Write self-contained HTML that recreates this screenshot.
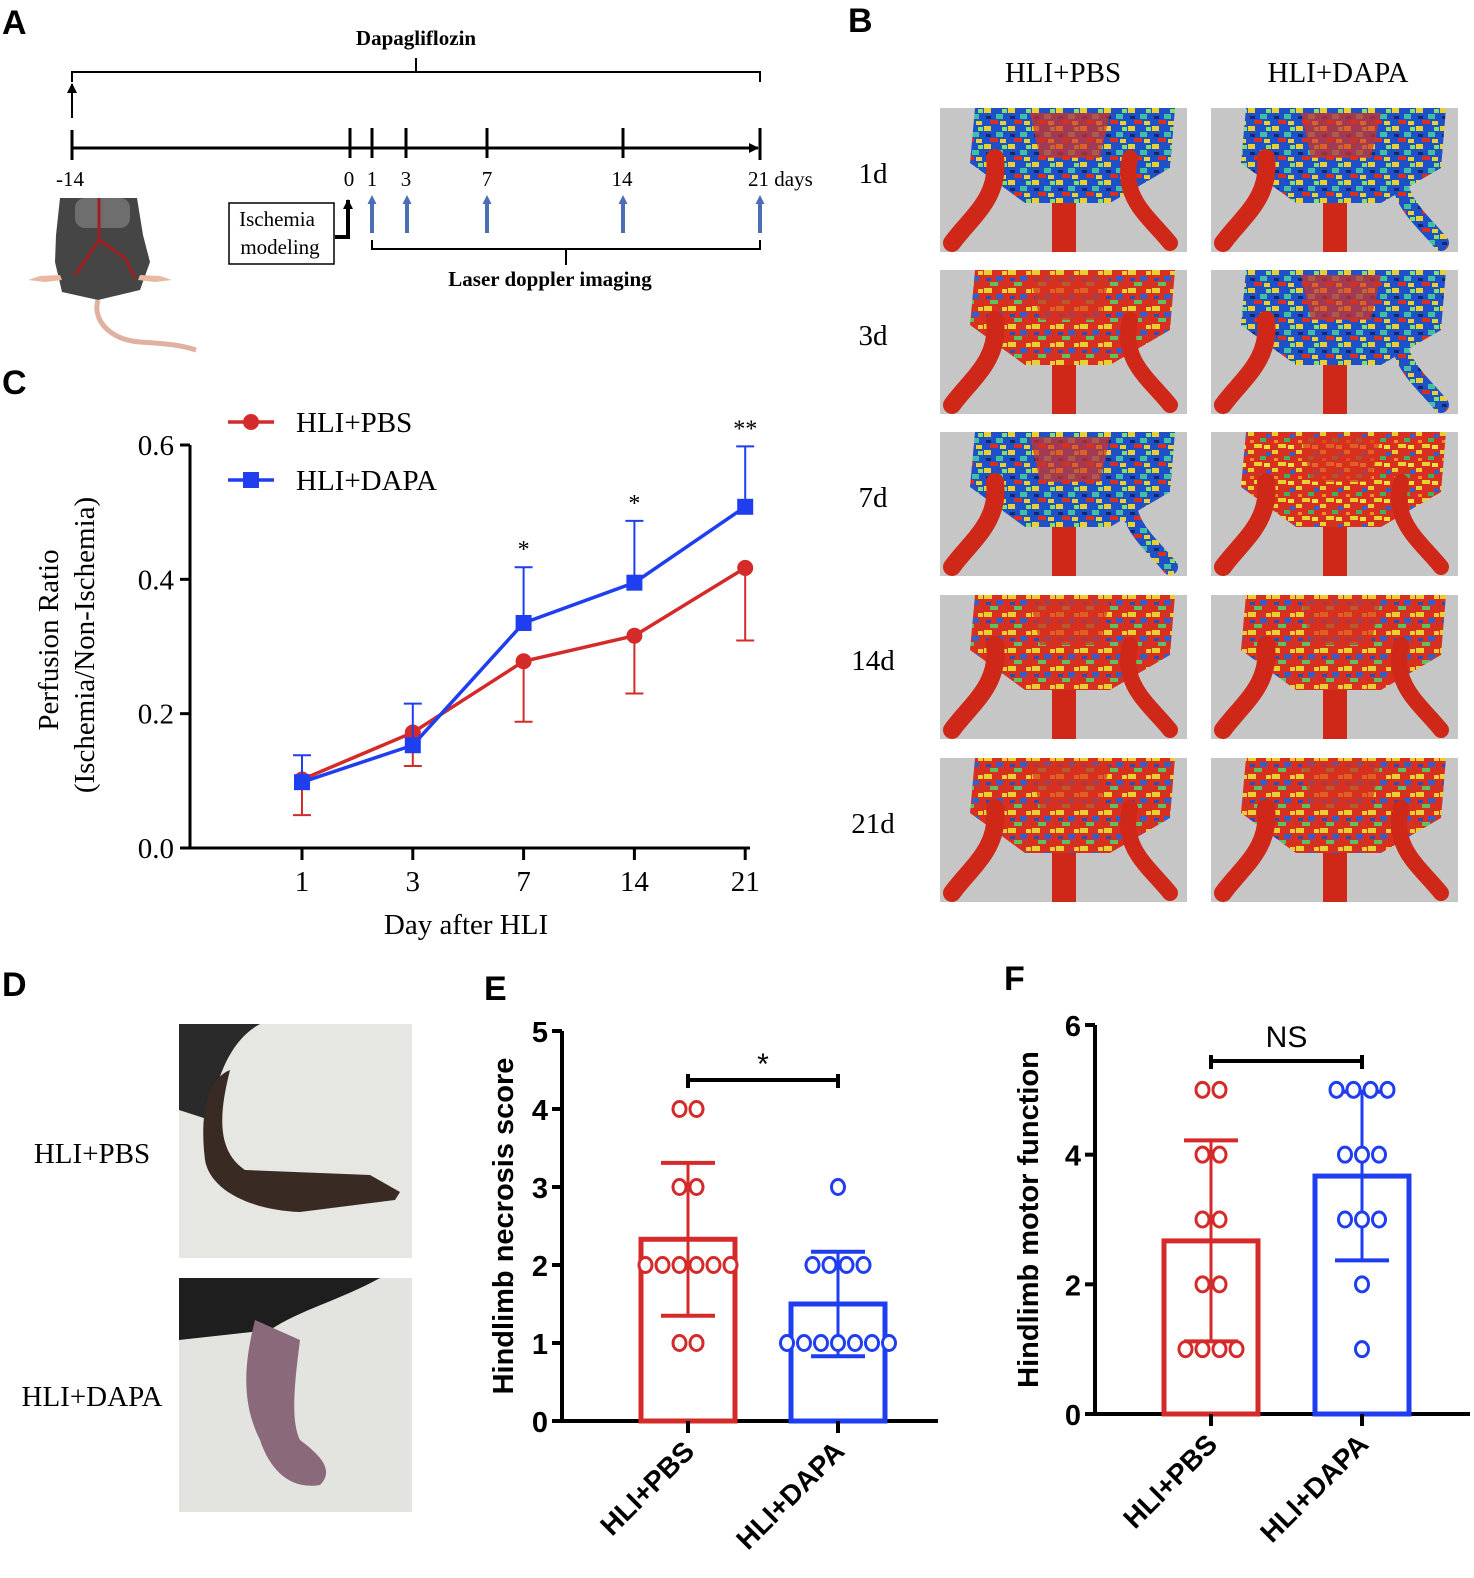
<!DOCTYPE html>
<html><head><meta charset="utf-8">
<style>
html,body{margin:0;padding:0;background:#fff;}
svg{display:block;}
.serif{font-family:"Liberation Serif",serif;}
.sans{font-family:"Liberation Sans",sans-serif;}
</style></head>
<body>
<svg id="fig" width="1474" height="1578" viewBox="0 0 1474 1578" xmlns="http://www.w3.org/2000/svg">
<defs>
<marker id="ah" markerUnits="userSpaceOnUse" markerWidth="10" markerHeight="10" refX="9" refY="5" orient="auto"><path d="M0,0 L10,5 L0,10 z" fill="#000"/></marker>
<marker id="ahb" markerUnits="userSpaceOnUse" markerWidth="9" markerHeight="9" refX="4" refY="4.5" orient="auto"><path d="M0,0 L9,4.5 L0,9 z" fill="#4a6fb5"/></marker>
<pattern id="hot" width="24" height="18" patternUnits="userSpaceOnUse">
<rect width="24" height="18" fill="#d83020"/>
<rect x="0" y="0" width="6" height="4" fill="#e8d030"/><rect x="12" y="6" width="6" height="4" fill="#40b060"/>
<rect x="6" y="12" width="8" height="4" fill="#e8d030"/><rect x="18" y="2" width="5" height="4" fill="#3060d0"/>
<rect x="2" y="8" width="4" height="3" fill="#f09020"/><rect x="16" y="13" width="6" height="4" fill="#f0e040"/>
</pattern>
<pattern id="cool" width="24" height="18" patternUnits="userSpaceOnUse">
<rect width="24" height="18" fill="#2050c8"/>
<rect x="0" y="0" width="7" height="5" fill="#e8d030"/><rect x="12" y="6" width="7" height="5" fill="#40c0a0"/>
<rect x="6" y="12" width="8" height="4" fill="#d83020"/><rect x="18" y="1" width="5" height="4" fill="#80e060"/>
<rect x="2" y="8" width="5" height="3" fill="#102870"/><rect x="16" y="13" width="6" height="4" fill="#e8d030"/>
</pattern>
<pattern id="warm" width="24" height="18" patternUnits="userSpaceOnUse">
<rect width="24" height="18" fill="#d83020"/>
<rect x="0" y="0" width="8" height="5" fill="#e8d030"/><rect x="12" y="6" width="7" height="5" fill="#3060d0"/>
<rect x="6" y="12" width="8" height="4" fill="#60c060"/><rect x="18" y="1" width="5" height="4" fill="#e8d030"/>
<rect x="2" y="8" width="5" height="3" fill="#2050c8"/>
</pattern>
</defs>

<g class="sans" font-weight="bold" font-size="34">
<text x="2" y="34">A</text>
<text x="848" y="32">B</text>
<text x="2" y="394">C</text>
<text x="2" y="996">D</text>
<text x="484" y="1000">E</text>
<text x="1004" y="990">F</text>
</g>

<g stroke="#000" fill="none">
<text class="serif" x="416" y="45" font-size="21" font-weight="bold" text-anchor="middle" fill="#000" stroke="none">Dapagliflozin</text>
<path d="M72,82 V72 H760 V82 M416,72 V58" stroke-width="2"/>
<line x1="72" y1="118" x2="72" y2="84" stroke-width="2" marker-end="url(#ah)"/>
<line x1="72" y1="148" x2="758" y2="148" stroke-width="3" marker-end="url(#ah)"/>
<g stroke-width="3"><line x1="72" y1="130" x2="72" y2="160"/><line x1="350" y1="128" x2="350" y2="158"/><line x1="372" y1="128" x2="372" y2="158"/><line x1="406" y1="128" x2="406" y2="158"/><line x1="487" y1="128" x2="487" y2="158"/><line x1="623" y1="128" x2="623" y2="158"/><line x1="760" y1="128" x2="760" y2="160"/></g>
<g class="serif" font-size="21" fill="#000" stroke="none">
<text x="70" y="186" text-anchor="middle">-14</text><text x="349" y="186" text-anchor="middle">0</text><text x="372" y="186" text-anchor="middle">1</text><text x="406" y="186" text-anchor="middle">3</text><text x="487" y="186" text-anchor="middle">7</text><text x="622" y="186" text-anchor="middle">14</text><text x="748" y="186">21 days</text>
</g>
<g stroke="#4a6fb5" stroke-width="4"><line x1="372" y1="233" x2="372" y2="200" marker-end="url(#ahb)"/><line x1="407" y1="233" x2="407" y2="200" marker-end="url(#ahb)"/><line x1="487" y1="233" x2="487" y2="200" marker-end="url(#ahb)"/><line x1="623" y1="233" x2="623" y2="200" marker-end="url(#ahb)"/><line x1="760" y1="233" x2="760" y2="200" marker-end="url(#ahb)"/></g>
<path d="M335,237 H348 V200" stroke-width="4" marker-end="url(#ah)"/>
<rect x="229" y="203" width="105" height="61" stroke-width="1.5"/>
<text class="serif" x="277" y="226" font-size="21" text-anchor="middle" fill="#000" stroke="none">Ischemia</text>
<text class="serif" x="280" y="254" font-size="21" text-anchor="middle" fill="#000" stroke="none">modeling</text>
<path d="M372,240 V249 H760 V240 M566,249 V265" stroke-width="2"/>
<text class="serif" x="550" y="286" font-size="21" font-weight="bold" text-anchor="middle" fill="#000" stroke="none">Laser doppler imaging</text>
</g>
<g>
<path d="M60,198 H137 L143,235 L150,262 L140,290 L98,300 L62,292 L55,262 L56,235 Z" fill="#454545"/>
<rect x="75" y="198" width="55" height="30" rx="10" fill="#6e6e6e"/>
<path d="M99,198 V240 L75,275 M99,240 L125,258 L135,278" stroke="#a02020" stroke-width="3" fill="none"/>
<path d="M60,275 L40,276 L28,280 L45,282 L62,280 Z M140,275 L160,276 L172,280 L155,282 L138,280 Z" fill="#e8b8a0"/>
<path d="M98,300 C92,320 110,340 140,342 C170,344 180,345 196,350" stroke="#e0b0a0" stroke-width="5" fill="none"/>
</g>

<g id="panelB">
<text class="serif" x="1063" y="82" font-size="29" text-anchor="middle">HLI+PBS</text>
<text class="serif" x="1338" y="82" font-size="29" text-anchor="middle">HLI+DAPA</text>
</g>

<g id="panelC"></g>

<g>
<rect x="179" y="1024" width="233" height="234" fill="#e6e6e2"/>
<path d="M179,1024 H260 C230,1040 215,1080 210,1120 L179,1110 Z" fill="#2a2a2a"/>
<path d="M230,1070 C220,1110 215,1150 245,1170 L370,1175 L400,1192 L395,1200 L300,1212 C250,1210 210,1190 205,1160 C200,1120 205,1080 230,1070 Z" fill="#3a2a24"/>
<rect x="179" y="1278" width="233" height="234" fill="#e3e3e0"/>
<path d="M179,1278 H380 C340,1300 300,1310 270,1330 L179,1340 Z" fill="#1e1e1e"/>
<path d="M255,1320 C245,1360 240,1400 260,1440 C270,1470 290,1490 320,1485 C335,1470 320,1455 300,1440 C290,1420 295,1380 300,1340 Z" fill="#8a6a7a"/>
<text class="serif" x="92" y="1163" font-size="29" text-anchor="middle">HLI+PBS</text>
<text class="serif" x="92" y="1406" font-size="29" text-anchor="middle">HLI+DAPA</text>
</g>

<g id="panelE"></g>
<g id="panelF"></g>
</svg>

<script>
var cDays = ['1','3','7','14','21'];
var pbsMean = [0.102, 0.172, 0.278, 0.316, 0.417];
var pbsErr = [0.053, 0.050, 0.090, 0.086, 0.108];
var dapaMean = [0.098, 0.153, 0.335, 0.395, 0.508];
var dapaErr = [0.040, 0.062, 0.083, 0.092, 0.090];
var cSig = ['', '', '*', '*', '**'];
var cTicks = [0, 0.2, 0.4, 0.6];

var eGroups = ['HLI+PBS', 'HLI+DAPA'];
var eMeans = [2.33, 1.50];
var eSD = [0.98, 0.67];
var ePbsDots = [4,4,3,3,2,2,2,2,2,2,1,1];
var eDapaDots = [3,2,2,2,2,1,1,1,1,1,1,1];
var eTicks = [0,1,2,3,4,5];

var fGroups = ['HLI+PBS', 'HLI+DAPA'];
var fMeans = [2.67, 3.67];
var fSD = [1.55, 1.30];
var fPbsDots = [5,5,4,4,3,3,2,2,1,1,1,1];
var fDapaDots = [5,5,5,5,4,4,4,3,3,3,2,1];
var fTicks = [0,2,4,6];

var NS = 'http://www.w3.org/2000/svg';
function mk(parent, tag, attrs, text) {
  var e = document.createElementNS(NS, tag);
  for (var k in attrs) e.setAttribute(k, attrs[k]);
  if (text !== undefined) e.textContent = text;
  parent.appendChild(e);
  return e;
}

(function(){
  var g = document.getElementById('panelB');
  var rowsLabel = ['1d','3d','7d','14d','21d'];
  var rowY = [108, 270, 432, 595, 758];
  var colX = [940, 1211];
  var bodyFill = [['url(#cool)','url(#cool)'],['url(#warm)','url(#cool)'],['url(#cool)','url(#hot)'],['url(#warm)','url(#warm)'],['url(#warm)','url(#warm)']];
  rowsLabel.forEach(function(lbl, r){
    var t = mk(g, 'text', {x: 873, y: rowY[r]+75, 'font-size': 29, 'text-anchor':'middle', 'class':'serif'}, lbl);
    
    
    colX.forEach(function(x, c){
      var y = rowY[r];
      var img = mk(g, 'g', {});
      
      
      mk(img, 'rect', {x: x, y: y, width: 247, height: 144, fill: '#c6c6c6'});
      mk(img, 'path', {d: 'M'+(x+35)+','+y+' H'+(x+235)+' L'+(x+230)+','+(y+60)+' L'+(x+170)+','+(y+95)+' L'+(x+85)+','+(y+95)+' L'+(x+30)+','+(y+55)+' Z', fill: bodyFill[r][c]});
      mk(img, 'path', {d: 'M'+(x+90)+','+(y+5)+' H'+(x+170)+' L'+(x+160)+','+(y+50)+' L'+(x+100)+','+(y+50)+' Z', fill: '#d83020', opacity: 0.7});
      mk(img, 'path', {d: 'M'+(x+55)+','+(y+50)+' C'+(x+60)+','+(y+90)+' '+(x+30)+','+(y+110)+' '+(x+12)+','+(y+135), stroke:'#d02818', 'stroke-width': 18, fill:'none', 'stroke-linecap':'round'});
      var legFar = (r >= 2 || c === 0) && !(r===2 && c===0) ? '#d02818' : 'url(#cool)';
      mk(img, 'path', {d: 'M'+(x+190)+','+(y+50)+' C'+(x+180)+','+(y+90)+' '+(x+210)+','+(y+110)+' '+(x+230)+','+(y+135), stroke: legFar, 'stroke-width': 16, fill:'none', 'stroke-linecap':'round'});
      mk(img, 'rect', {x: x+112, y: y+95, width: 24, height: 49, fill: '#d02818'});
    });
  });
})();

(function(){
  var g = document.getElementById('panelC');
  var x0 = 190, yZero = 848, yTop = 445;
  var xPos = function(i){ return 302 + i * 110.8; };
  var yPos = function(v){ return yZero - (v / 0.6) * (yZero - yTop); };
  var ax = mk(g, 'path', {d: 'M'+x0+','+(yTop)+' V'+yZero+' H750', stroke:'#000', 'stroke-width':3, fill:'none'});
  
  
  cTicks.forEach(function(t){
    mk(g, 'line', {x1: x0-10, x2: x0, y1: yPos(t), y2: yPos(t), stroke:'#000', 'stroke-width':3});
    var tl = mk(g, 'text', {x: x0-16, y: yPos(t)+10, 'font-size': 29, 'text-anchor':'end', 'class':'serif'}, t.toFixed(1));
    
    
  });
  cDays.forEach(function(d, i){
    mk(g, 'line', {x1: xPos(i), x2: xPos(i), y1: yZero, y2: yZero+12, stroke:'#000', 'stroke-width':3});
    var tl = mk(g, 'text', {x: xPos(i), y: yZero+43, 'font-size': 29, 'text-anchor':'middle', 'class':'serif'}, d);
    
    
  });
  var xt = mk(g, 'text', {x: 466, y: 934, 'font-size': 29, 'text-anchor':'middle', 'class':'serif'}, 'Day after HLI');
  
  
  var yt = mk(g, 'text', {transform: 'translate(58,640) rotate(-90)', 'font-size': 29, 'text-anchor':'middle', 'class':'serif'}, 'Perfusion Ratio');
  
  
  var yt2 = mk(g, 'text', {transform: 'translate(94,645) rotate(-90)', 'font-size': 29, 'text-anchor':'middle', 'class':'serif'}, '(Ischemia/Non-Ischemia)');
  
  

  function series(means, errs, color, dir, square, name) {
    var sg = mk(g, 'g', {});
    
    
    means.forEach(function(m, i){
      var x = xPos(i), y = yPos(m), ye = yPos(m + dir*errs[i]);
      mk(sg, 'line', {x1:x, x2:x, y1:y, y2:ye, stroke:color, 'stroke-width':2});
      mk(sg, 'line', {x1:x-9, x2:x+9, y1:ye, y2:ye, stroke:color, 'stroke-width':2});
    });
    var pts = means.map(function(m,i){ return xPos(i)+','+yPos(m); }).join(' ');
    mk(sg, 'polyline', {points: pts, stroke: color, 'stroke-width': 3.5, fill:'none'});
    means.forEach(function(m, i){
      var p;
      if (square) p = mk(sg, 'rect', {x: xPos(i)-8, y: yPos(m)-8, width: 16, height: 16, fill: color});
      else p = mk(sg, 'circle', {cx: xPos(i), cy: yPos(m), r: 8, fill: color});
      
      
    });
  }
  series(pbsMean, pbsErr, '#d42a2a', -1, false, 'pbs-series');
  series(dapaMean, dapaErr, '#1f3ef0', 1, true, 'dapa-series');
  cSig.forEach(function(s, i){
    if (!s) return;
    var st = mk(g, 'text', {x: xPos(i), y: yPos(dapaMean[i] + dapaErr[i]) - 10, 'font-size': 24, 'text-anchor':'middle', 'class':'serif'}, s);
    
    
  });
  var lg = mk(g, 'g', {});
  
  
  mk(lg, 'line', {x1: 228, x2: 274, y1: 422, y2: 422, stroke:'#d42a2a', 'stroke-width':3.5});
  mk(lg, 'circle', {cx: 251, cy: 422, r: 8, fill:'#d42a2a'});
  mk(lg, 'text', {x: 296, y: 432, 'font-size': 29, 'class':'serif'}, 'HLI+PBS');
  mk(lg, 'line', {x1: 228, x2: 274, y1: 480, y2: 480, stroke:'#1f3ef0', 'stroke-width':3.5});
  mk(lg, 'rect', {x: 243, y: 472, width: 16, height: 16, fill:'#1f3ef0'});
  mk(lg, 'text', {x: 296, y: 490, 'font-size': 29, 'class':'serif'}, 'HLI+DAPA');
})();

function barChart(id, groups, means, sds, dotsA, dotsB, ticks, opt) {
  var g = document.getElementById(id);
  var yPos = function(v){ return opt.yZero - (v / opt.yMax) * (opt.yZero - opt.yTop); };
  var ax = mk(g, 'path', {d: 'M'+opt.x0+','+opt.yTop+' V'+opt.yZero+' H'+opt.xEnd, stroke:'#000', 'stroke-width':4, fill:'none'});
  
  
  ticks.forEach(function(t){
    mk(g, 'line', {x1: opt.x0-10, x2: opt.x0, y1: yPos(t), y2: yPos(t), stroke:'#000', 'stroke-width':4});
    var tl = mk(g, 'text', {x: opt.x0-14, y: yPos(t)+11, 'font-size': 29, 'font-weight':'bold', 'text-anchor':'end', 'class':'sans'}, String(t));
    
    
  });
  var yt = mk(g, 'text', {transform: 'translate('+opt.titleX+','+((opt.yTop+opt.yZero)/2)+') rotate(-90)', 'font-size': 29, 'font-weight':'bold', 'text-anchor':'middle', 'class':'sans'}, opt.title);
  
  
  var colors = ['#d42a2a', '#1f3ef0'];
  var dotSets = [dotsA, dotsB];
  groups.forEach(function(gn, i){
    var cx = opt.cx[i], c = colors[i];
    var bar = mk(g, 'rect', {x: cx-47, y: yPos(means[i]), width: 94, height: opt.yZero - yPos(means[i]), fill:'none', stroke:c, 'stroke-width':5});
    
    
    var lo = yPos(means[i]-sds[i]), hi = yPos(means[i]+sds[i]);
    mk(g, 'line', {x1:cx, x2:cx, y1:lo, y2:hi, stroke:c, 'stroke-width':3});
    mk(g, 'line', {x1:cx-27, x2:cx+27, y1:lo, y2:lo, stroke:c, 'stroke-width':4});
    mk(g, 'line', {x1:cx-27, x2:cx+27, y1:hi, y2:hi, stroke:c, 'stroke-width':4});
    mk(g, 'line', {x1:cx, x2:cx, y1:opt.yZero, y2:opt.yZero+12, stroke:'#000', 'stroke-width':4});
    var counts = {};
    dotSets[i].forEach(function(v){ counts[v] = (counts[v]||0) + 1; });
    Object.keys(counts).forEach(function(k){
      var n = counts[k];
      for (var j = 0; j < n; j++) {
        var dx = (j - (n-1)/2) * 17;
        var d = mk(g, 'ellipse', {cx: cx+dx, cy: yPos(+k), rx: 6.5, ry: 7.5, fill:'#fff', stroke:c, 'stroke-width':3});
        
        
      }
    });
    var lab = mk(g, 'text', {transform: 'translate('+(cx+8)+','+(opt.yZero+32)+') rotate(-45)', 'font-size': 28, 'font-weight':'bold', 'text-anchor':'end', 'class':'sans'}, gn);
    
    
  });
  var sg = mk(g, 'g', {});
  
  
  var by = opt.sigY;
  mk(sg, 'path', {d: 'M'+opt.cx[0]+','+(by+8)+' V'+(by-6)+' M'+opt.cx[0]+','+by+' H'+opt.cx[1]+' M'+opt.cx[1]+','+(by+8)+' V'+(by-6), stroke:'#000', 'stroke-width':4, fill:'none'});
  mk(sg, 'text', {x: (opt.cx[0]+opt.cx[1])/2, y: opt.sigTextY, 'font-size': opt.sigSize, 'text-anchor':'middle', 'class':'sans'}, opt.sigText);
}
barChart('panelE', eGroups, eMeans, eSD, ePbsDots, eDapaDots, eTicks,
  {x0: 562, xEnd: 938, yZero: 1421, yTop: 1031, yMax: 5, cx: [688, 838], title: 'Hindlimb necrosis score', titleX: 513, sigY: 1080, sigTextY: 1074, sigText: '*', sigSize: 30});
barChart('panelF', fGroups, fMeans, fSD, fPbsDots, fDapaDots, fTicks,
  {x0: 1095, xEnd: 1470, yZero: 1414, yTop: 1025, yMax: 6, cx: [1211, 1362], title: 'Hindlimb motor function', titleX: 1038, sigY: 1061, sigTextY: 1047, sigText: 'NS', sigSize: 30});
</script>
</body></html>
